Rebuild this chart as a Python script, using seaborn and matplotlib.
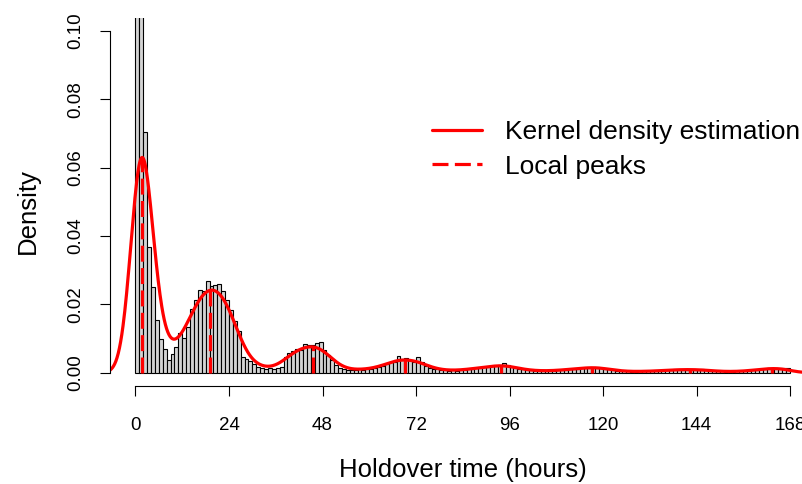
import numpy as np
import pandas as pd
import matplotlib
matplotlib.use("Agg")
import matplotlib.pyplot as plt
from matplotlib.lines import Line2D
import seaborn as sns

# ---- data ----
# histogram densities for 1-hour bins [h, h+1), h = 0..167
hist_density = [
    0.1300, 0.1760, 0.0706, 0.0369, 0.0252, 0.0155, 0.0100, 0.0070, 0.0037, 0.0055,
    0.0076, 0.0117, 0.0101, 0.0135, 0.0186, 0.0212, 0.0242, 0.0239, 0.0268, 0.0254,
    0.0257, 0.0259, 0.0240, 0.0213, 0.0185, 0.0152, 0.0122, 0.0045, 0.0040, 0.0033,
    0.0025, 0.0018, 0.0015, 0.0012, 0.0014, 0.0012, 0.0015, 0.0018, 0.0045, 0.0059,
    0.0064, 0.0070, 0.0066, 0.0084, 0.0080, 0.0080, 0.0086, 0.0090, 0.0066, 0.0052,
    0.0037, 0.0022, 0.0015, 0.0011, 0.0009, 0.0008, 0.0008, 0.0010, 0.0009, 0.0011,
    0.0012, 0.0013, 0.0016, 0.0020, 0.0027, 0.0032, 0.0032, 0.0049, 0.0039, 0.0043,
    0.0037, 0.0031, 0.0045, 0.0030, 0.0020, 0.0015, 0.0012, 0.0010, 0.0008, 0.0007,
    0.0006, 0.0007, 0.0006, 0.0008, 0.0009, 0.0010, 0.0012, 0.0013, 0.0015, 0.0016,
    0.0018, 0.0019, 0.0020, 0.0022, 0.0028, 0.0024, 0.0016, 0.0014, 0.0012, 0.0010,
    0.0008, 0.0007, 0.0006, 0.0005, 0.0005, 0.0005, 0.0006, 0.0006, 0.0007, 0.0008,
    0.0009, 0.0010, 0.0011, 0.0012, 0.0013, 0.0014, 0.0016, 0.0018, 0.0017, 0.0015,
    0.0012, 0.0010, 0.0008, 0.0006, 0.0005, 0.0004, 0.0004, 0.0003, 0.0003, 0.0004,
    0.0004, 0.0004, 0.0005, 0.0005, 0.0006, 0.0006, 0.0007, 0.0008, 0.0010, 0.0009,
    0.0009, 0.0009, 0.0011, 0.0009, 0.0008, 0.0010, 0.0008, 0.0006, 0.0005, 0.0004,
    0.0004, 0.0003, 0.0003, 0.0003, 0.0004, 0.0004, 0.0005, 0.0006, 0.0007, 0.0008,
    0.0010, 0.0012, 0.0015, 0.0012, 0.0014, 0.0013, 0.0014, 0.0015,
]
bin_width_hours = 1.0
kde_bandwidth_hours = 2.6
peak_hours = [1.7, 19.2, 45.5, 69.2, 93.7, 117.2, 142.2, 163.5]
x_ticks = [0, 24, 48, 72, 96, 120, 144, 168]
y_ticks = [0.00, 0.02, 0.04, 0.06, 0.08, 0.10]
y_tick_labels = ["0.00", "0.02", "0.04", "0.06", "0.08", "0.10"]
x_label = "Holdover time (hours)"
y_label = "Density"
legend_labels = ["Kernel density estimation", "Local peaks"]

# ---- derived tables ----
heights = np.array(hist_density)
n_bins = len(heights)
edges = np.arange(n_bins + 1) * bin_width_hours
centers = edges[:-1] + bin_width_hours / 2
df = pd.DataFrame({"hour": centers, "density": heights})

bw = kde_bandwidth_hours
grid = np.linspace(edges[0] - 3 * bw, edges[-1] + 3 * bw, 1200)
kern = np.exp(-0.5 * ((grid[None, :] - centers[:, None]) / bw) ** 2) / (bw * np.sqrt(2 * np.pi))
kde = (heights[:, None] * bin_width_hours * kern).sum(axis=0)
kde_df = pd.DataFrame({"hour": grid, "density": kde})
peak_heights = np.interp(peak_hours, grid, kde)

# ---- style ----
sns.set_style("ticks")
plt.rcParams["font.family"] = ["Liberation Sans", "DejaVu Sans"]
plt.rcParams["text.color"] = "black"
plt.rcParams["xtick.color"] = "black"
plt.rcParams["ytick.color"] = "black"
plt.rcParams["axes.labelcolor"] = "black"

W, H = 803, 484
fig = plt.figure(figsize=(W / 100, H / 100), dpi=100)
px_per_hour = 3.896
x0_px = 135.5
left_px, right_px = 110, 803
top_px, bottom_px = 17.5, 386.4
ax = fig.add_axes([left_px / W, 1 - bottom_px / H,
                   (right_px - left_px) / W, (bottom_px - top_px) / H])

sns.histplot(data=df, x="hour", weights="density",
             binwidth=bin_width_hours, binrange=(float(edges[0]), float(edges[-1])),
             stat="count", color="#d3d3d3", edgecolor="black", linewidth=0.8,
             alpha=1.0, ax=ax)
sns.lineplot(data=kde_df, x="hour", y="density", color="red", linewidth=2.3,
             ax=ax, sort=True, estimator=None)
ax.vlines(peak_hours, 0, peak_heights, colors="red", linewidth=2.3,
          linestyles=[(0, (5.0, 2.0))])

ax.set_xlim((left_px - x0_px) / px_per_hour, (right_px - x0_px) / px_per_hour)
ax.set_ylim(-0.004, 0.104)

ax.set_xticks(x_ticks)
ax.set_xticklabels([str(t) for t in x_ticks])
ax.set_yticks(y_ticks)
ax.set_yticklabels(y_tick_labels, rotation=90, va="center")
ax.tick_params(axis="both", direction="out", length=7.2, width=0.8,
               labelsize=13.5, color="black", labelcolor="black")
ax.tick_params(axis="x", pad=15)
ax.tick_params(axis="y", pad=11)

for s in ["top", "right"]:
    ax.spines[s].set_visible(False)
ax.spines["left"].set_bounds(0, 0.10)
ax.spines["bottom"].set_bounds(0, 168)
for s in ["left", "bottom"]:
    ax.spines[s].set_linewidth(0.8)
    ax.spines[s].set_color("black")

ax.set_xlabel("")
ax.set_ylabel("")
fig.text(462.5 / W, 1 - 476.5 / H, x_label, ha="center", va="baseline",
         fontsize=18.5, color="black")
fig.text(28 / W, 1 - 211 / H, y_label, ha="center", va="center", rotation=90,
         fontsize=18.5, color="black")

handles = [Line2D([0], [0], color="red", linewidth=2.3),
           Line2D([0], [0], color="red", linewidth=2.3, linestyle=(0, (5.0, 2.0)))]
leg = ax.legend(handles, legend_labels, loc="center left",
                bbox_to_anchor=(432 / W, 1 - 149.5 / H), bbox_transform=fig.transFigure,
                frameon=False, fontsize=19, borderpad=0, borderaxespad=0,
                handlelength=1.9, handletextpad=0.87, labelspacing=0.38)
for t in leg.get_texts():
    t.set_color("black")

fig.savefig("out.png", dpi=100)
